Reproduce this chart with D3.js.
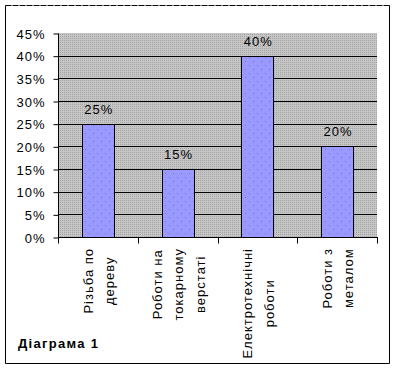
<!DOCTYPE html>
<html><head><meta charset="utf-8">
<script src="https://cdn.jsdelivr.net/npm/d3@7"></script>
<style>
html,body{margin:0;padding:0;background:#fff;}
text{font-family:Arial,"Liberation Sans",sans-serif;}
</style></head>
<body>
<svg id="c" width="396" height="369"></svg>
<script>
const categories = [["Різьба по","дереву"],["Роботи на","токарному","верстаті"],["Електротехнічні","роботи"],["Роботи з","металом"]];
const values = [0.25, 0.15, 0.40, 0.20];
const yTicks = [0,0.05,0.10,0.15,0.20,0.25,0.30,0.35,0.40,0.45];
const title = "Діаграма 1";

const svg = d3.select("#c");
const defs = svg.append("defs");
const pg = defs.append("pattern").attr("id","pbg").attr("width",2).attr("height",2).attr("patternUnits","userSpaceOnUse");
pg.append("rect").attr("width",2).attr("height",2).attr("fill","#c6c6c6");
pg.append("rect").attr("width",1).attr("height",1).attr("fill","#a2a2a2");
const pb = defs.append("pattern").attr("id","pbar").attr("width",8).attr("height",8).attr("patternUnits","userSpaceOnUse");
pb.append("rect").attr("width",8).attr("height",8).attr("fill","#9999ff");
pb.append("rect").attr("x",1).attr("y",1).attr("width",1).attr("height",1).attr("fill","#7373d9");
pb.append("rect").attr("x",5).attr("y",5).attr("width",1).attr("height",1).attr("fill","#7373d9");

// outer frame
svg.append("rect").attr("x",5.5).attr("y",5.5).attr("width",383.5).attr("height",357.5).attr("fill","#fff").attr("stroke","none");
svg.append("path").attr("d","M5.5,5.5V363.5H389.5V5.5").attr("fill","none").attr("stroke","#000");
svg.append("line").attr("x1",5.5).attr("x2",389.5).attr("y1",5.5).attr("y2",5.5).attr("stroke","#000").attr("stroke-dasharray","6,1");

const L=58, R=377, T=33, B=237;
const x = d3.scaleBand().domain(d3.range(categories.length)).range([L,R]).paddingInner(0).paddingOuter(0);
const y = d3.scaleLinear().domain([0,0.45]).range([B,T]);

svg.append("rect").attr("x",L).attr("y",T).attr("width",R-L).attr("height",B-T).attr("fill","url(#pbg)");

// gridlines
svg.append("g").selectAll("line").data(yTicks.filter(v=>v>0 && v<0.45)).join("line")
  .attr("x1",L).attr("x2",R).attr("y1",d=>Math.round(y(d))+0.5).attr("y2",d=>Math.round(y(d))+0.5)
  .attr("stroke","#000");

// bars
const bw = x.bandwidth()*0.4;
svg.append("g").selectAll("rect").data(values).join("rect")
  .attr("x",(d,i)=>Math.round(x(i)+x.bandwidth()/2-bw/2)+0.5)
  .attr("y",d=>Math.round(y(d))+0.5)
  .attr("width",Math.round(bw))
  .attr("height",d=>Math.round(y(0))-Math.round(y(d)))
  .attr("fill","url(#pbar)").attr("stroke","#000");

// value labels
svg.append("g").selectAll("text").data(values).join("text")
  .attr("x",(d,i)=>x(i)+x.bandwidth()/2+1)
  .attr("y",d=>y(d)-10)
  .attr("text-anchor","middle").attr("font-size",13).attr("letter-spacing",1)
  .attr("fill","#000")
  .text(d=>Math.round(d*100)+"%");

// y axis
const yAxis = d3.axisLeft(y).tickValues(yTicks).tickSize(5).tickPadding(8).tickFormat(d=>Math.round(d*100)+"%");
const ga = svg.append("g").attr("transform",`translate(${L+0.5},0.5)`).call(yAxis);
ga.selectAll(".domain").attr("d",`M0,${T}V${B}`).attr("stroke","#000");
ga.selectAll(".tick line").attr("stroke","#000");
ga.selectAll(".tick text").attr("font-size",13).attr("letter-spacing",1).attr("fill","#000")
  .attr("font-family","Arial, 'Liberation Sans', sans-serif").attr("dy","0.36em");

// x axis
const xb = svg.append("g").attr("transform",`translate(0,${B+0.5})`);
xb.append("line").attr("x1",L).attr("x2",R+1).attr("stroke","#000");
const edges = d3.range(categories.length+1).map(i=>i<categories.length?x(i):R);
xb.selectAll("line.t").data(edges).join("line").attr("class","t")
  .attr("x1",d=>Math.round(d)+0.5).attr("x2",d=>Math.round(d)+0.5).attr("y1",0).attr("y2",6).attr("stroke","#000");

// category labels rotated
const lineGap = 21.5;
categories.forEach((lines,i)=>{
  const g = svg.append("g");
  const cx = x(i)+x.bandwidth()/2+1;
  const texts = lines.map((s,j)=>g.append("text").attr("font-size",13).attr("letter-spacing",1).attr("fill","#000").attr("text-anchor","middle").text(s));
  const maxLen = d3.max(texts, t=>t.node().getComputedTextLength());
  const cy = 248 + maxLen/2;
  texts.forEach((t,j)=>{
    const lx = cx + (j-(lines.length-1)/2)*lineGap + 4.5;
    t.attr("transform",`translate(${lx},${cy}) rotate(-90)`);
  });
});

svg.append("text").attr("x",18).attr("y",348).attr("font-size",13).attr("font-weight","bold").attr("letter-spacing",1.3).attr("fill","#000").text(title);
</script>
</body></html>
